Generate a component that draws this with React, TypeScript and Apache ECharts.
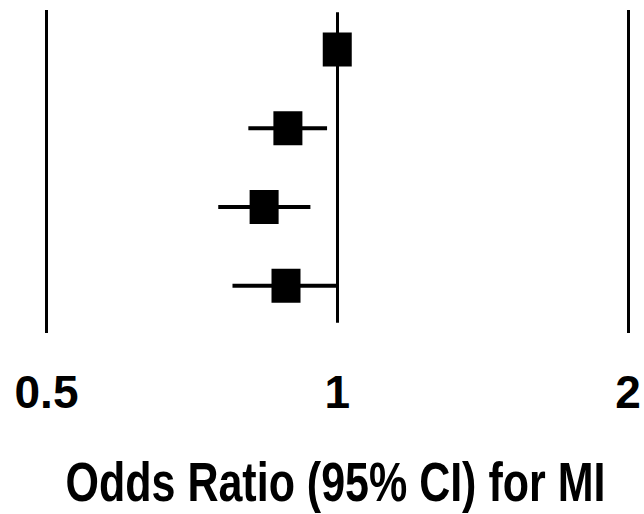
import React, { useEffect, useRef } from "react";
import * as echarts from "echarts";

const rows = [1, 2, 3, 4];
const oddsRatio = [1.0, 0.889, 0.84, 0.885];
const ciLow = [1.0, 0.809, 0.753, 0.779];
const ciHigh = [1.0, 0.976, 0.938, 1.0];
const tickValues = [0.5, 1, 2];
const tickLabels = ["0.5", "1", "2"];
const axisTitle = "Odds Ratio (95% CI) for MI";

const FONT = "'Liberation Sans', Arial, Helvetica, sans-serif";

export default function App() {
  const ref = useRef<HTMLDivElement>(null);
  useEffect(() => {
    if (!ref.current) return;
    const chart = echarts.init(ref.current, undefined, { renderer: "svg" });
    const ciData = rows.map((r, i) => [ciLow[i], ciHigh[i], r]);
    const pointData = rows.map((r, i) => [oddsRatio[i], r]);
    chart.setOption({
      animation: false,
      backgroundColor: "#ffffff",
      grid: { left: 46.5, right: 16, top: 10, bottom: 181, outerBoundsMode: "none", containLabel: false },
      xAxis: {
        type: "log",
        logBase: 2,
        min: 0.5,
        max: 2,
        axisLine: { show: false },
        axisTick: { show: false },
        splitLine: { show: false },
        axisLabel: {
          color: "#000",
          fontFamily: FONT,
          fontWeight: "bold",
          fontSize: 46,
          margin: 36,
          hideOverlap: false,
          showMinLabel: true,
          showMaxLabel: true,
          formatter: (v: number) => {
            const idx = tickValues.findIndex((t) => Math.abs(t - v) < 1e-6);
            return idx >= 0 ? tickLabels[idx] : "";
          },
        },
      },
      yAxis: {
        type: "value",
        min: 0.5,
        max: 4.6,
        inverse: true,
        show: false,
      },
      graphic: [
        {
          type: "text",
          x: 335.5,
          y: 481,
          scaleY: 1.28,
          style: {
            text: axisTitle,
            fill: "#000",
            fontFamily: FONT,
            fontWeight: "bold",
            fontSize: 43,
            align: "center",
            verticalAlign: "middle",
          },
        },
      ],
      series: [
        {
          type: "custom",
          data: ciData,
          renderItem: (params: any, api: any) => {
            const lo = api.coord([api.value(0), api.value(2)]);
            const hi = api.coord([api.value(1), api.value(2)]);
            return {
              type: "line",
              shape: { x1: lo[0], y1: lo[1], x2: hi[0], y2: hi[1] },
              style: { stroke: "#000", lineWidth: 4 },
            };
          },
          z: 2,
        },
        {
          type: "scatter",
          data: pointData,
          symbol: "rect",
          symbolSize: [29, 34],
          itemStyle: { color: "#000", opacity: 1 },
          z: 3,
          markLine: {
            silent: true,
            symbol: "none",
            label: { show: false },
            lineStyle: { color: "#000", width: 3, type: "solid" },
            data: [
              [{ coord: [0.5, 0.5] }, { coord: [0.5, 4.6] }],
              [{ coord: [1, 0.53] }, { coord: [1, 4.47] }],
              [{ coord: [2, 0.5] }, { coord: [2, 4.6] }],
            ],
          },
        },
      ],
    });
    return () => chart.dispose();
  }, []);
  return <div ref={ref} style={{ width: 644, height: 514, position: "fixed", left: 0, top: 0 }} />;
}
